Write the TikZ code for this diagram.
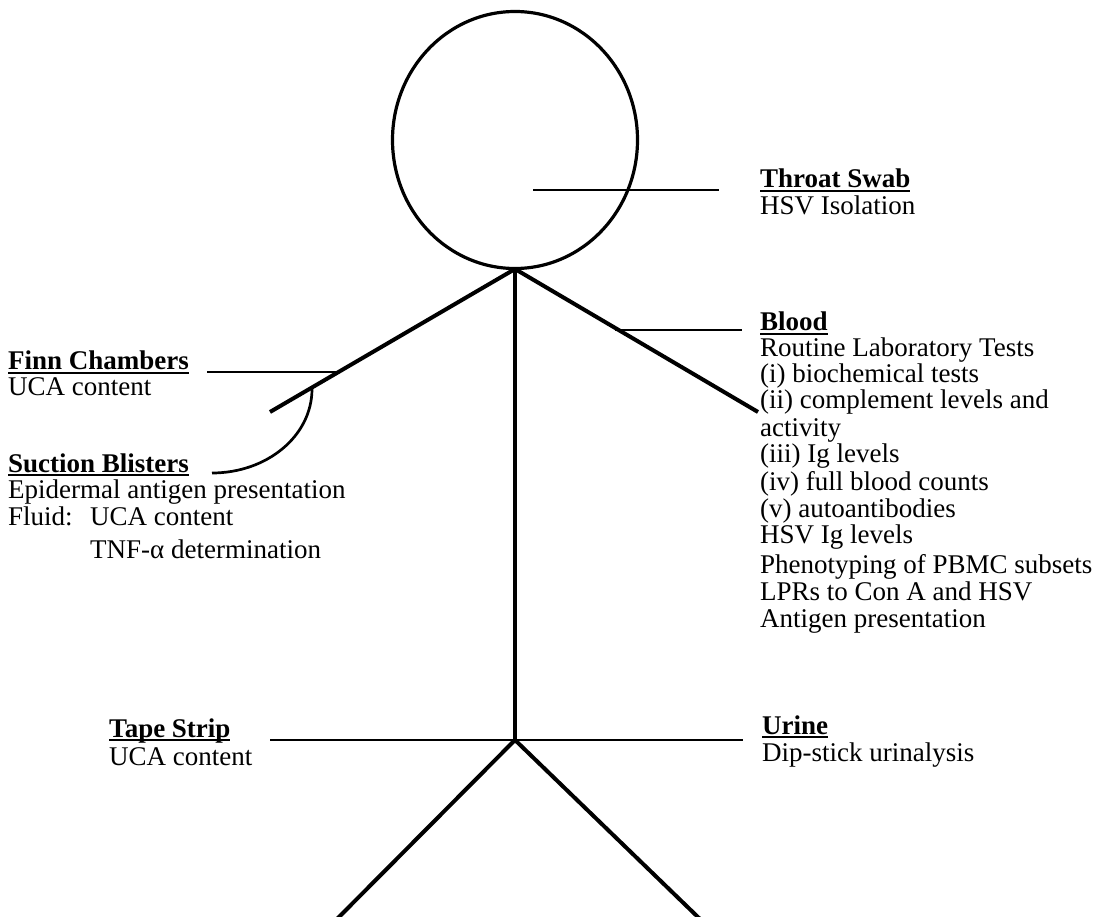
\documentclass[tikz,border=0pt]{standalone}
\usepackage{fontspec}
\setmainfont{Liberation Serif}
\usetikzlibrary{shapes.geometric}
\newcommand\myhdr[1]{\setbox0=\hbox{\bfseries #1}\rlap{\rule[-4pt]{\wd0}{2.2pt}}\box0}
\begin{document}
\begin{tikzpicture}[x=1pt,y=-1pt,
  body/.style={line width=4pt,line join=round},
  leader/.style={line width=2.7pt},
  txt/.style={anchor=base west,inner sep=0pt,font=\fontsize{27}{27}\selectfont},
  hd/.style={txt}]
\useasboundingbox (0,0) rectangle (1104,917);
% skeleton points
\coordinate (neck) at (515,269);
\coordinate (hip) at (515,740);
\coordinate (larm) at (270,412);
\coordinate (rarm) at (758,412);
\coordinate (lfoot) at (336,920);
\coordinate (rfoot) at (701,920);
% head
\node[draw,ellipse,line width=3.2pt,minimum width=245pt,minimum height=257pt,inner sep=0pt] (head) at (515,140) {};
% body
\draw[body] (neck) -- (hip);
\draw[body] (neck) -- (larm);
\draw[body] (neck) -- (rarm);
\draw[body] (hip) -- (lfoot);
\draw[body] (hip) -- (rfoot);
% leader coordinates
\coordinate (ts1) at (533,190); \coordinate (ts2) at (719,190);
\coordinate (bl1) at (615,330); \coordinate (bl2) at (742,330);
\coordinate (fc1) at (207,372); \coordinate (fc2) at (338,372);
\coordinate (sb1) at (312,389); \coordinate (sb2) at (212,473);
\coordinate (tp1) at (270,740); \coordinate (ur2) at (743,740);
\draw[leader] (ts1) -- (ts2);
\draw[leader] (bl1) -- (bl2);
\draw[leader] (fc1) -- (fc2);
\draw[leader] (sb1) .. controls (312,436) and (267,473) .. (sb2);
\draw[leader] (tp1) -- (hip) -- (ur2);
% Throat swab
\node[hd] (tsh) at (760,188) {\myhdr{Throat Swab}};
\node[txt] (ts_a) at (760,215) {HSV Isolation};
% Blood
\node[hd] (blh) at (760,331) {\myhdr{Blood}};
\node[txt] (bl_a) at (760,357) {Routine Laboratory Tests};
\node[txt] (bl_b) at (760,383) {(i) biochemical tests};
\node[txt] (bl_c) at (760,409) {(ii) complement levels and};
\node[txt] (bl_d) at (760,436) {activity};
\node[txt] (bl_e) at (760,462) {(iii) Ig levels};
\node[txt] (bl_f) at (760,490) {(iv) full blood counts};
\node[txt] (bl_g) at (760,517) {(v) autoantibodies};
\node[txt] (bl_h) at (760,543) {HSV Ig levels};
\node[txt] (bl_i) at (760,573) {Phenotyping of PBMC subsets};
\node[txt] (bl_j) at (760,600) {LPRs to Con A and HSV};
\node[txt] (bl_k) at (760,627) {Antigen presentation};
% Finn chambers
\node[hd] (fch) at (8,370) {\myhdr{Finn Chambers}};
\node[txt] (fc_a) at (8,396) {UCA content};
% Suction blisters
\node[hd] (sbh) at (8,472) {\myhdr{Suction Blisters}};
\node[txt] (sb_a) at (8,498) {Epidermal antigen presentation};
\node[txt] (sb_b) at (8,525) {Fluid:};
\node[txt] (sb_c) at (90,525) {UCA content};
\node[txt] (sb_d) at (90,558) {TNF-α determination};
% Tape strip
\node[hd] (tph) at (109,737) {\myhdr{Tape Strip}};
\node[txt] (tp_a) at (109,765) {UCA content};
% Urine
\node[hd] (urh) at (762,734) {\myhdr{Urine}};
\node[txt] (ur_a) at (762,761) {Dip-stick urinalysis};
\end{tikzpicture}
\end{document}
